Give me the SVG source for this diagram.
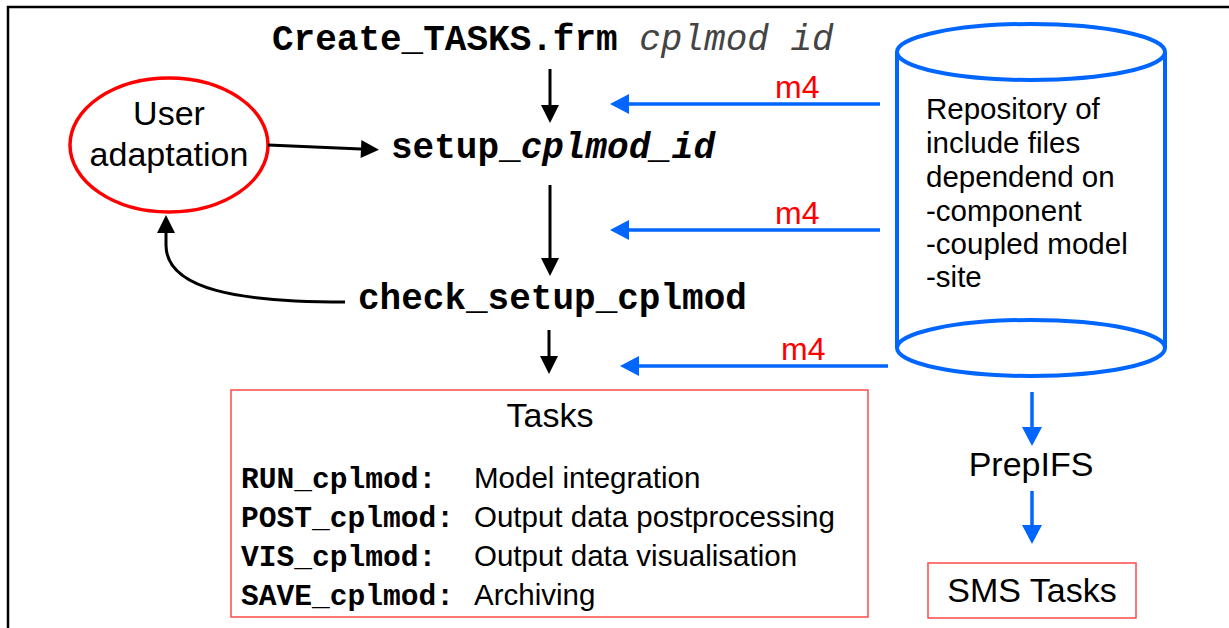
<svg xmlns="http://www.w3.org/2000/svg" width="1229" height="628" viewBox="0 0 1229 628">
<style>
.mono{font-family:"Liberation Mono","Courier New",monospace;font-weight:bold;fill:#000}
.sans{font-family:"Liberation Sans",Arial,sans-serif;fill:#000}
.blk{stroke:#000;stroke-width:3;fill:none}
.blu{stroke:#0066ff;stroke-width:3.5;fill:none}
.m4{font-family:"Liberation Sans",Arial,sans-serif;font-size:32px;fill:#ff0000}
</style>
<defs>
<marker id="hb" markerUnits="userSpaceOnUse" markerWidth="18" markerHeight="18" refX="0" refY="9" orient="auto" overflow="visible">
<path d="M0,0 L18,9 L0,18 z" fill="#000"/>
</marker>
<marker id="hu" markerUnits="userSpaceOnUse" markerWidth="19" markerHeight="20" refX="0" refY="10" orient="auto" overflow="visible">
<path d="M0,0 L19,10 L0,20 z" fill="#0066ff"/>
</marker>
</defs>
<rect x="0" y="0" width="1229" height="628" fill="#fff"/>
<rect x="8" y="7" width="1240" height="640" fill="none" stroke="#000" stroke-width="2.5"/>

<g id="create">
<text x="272" y="50" class="mono" font-size="36">Create_TASKS.frm<tspan font-weight="normal" font-style="italic" fill="#444"> cplmod id</tspan></text>
</g>
<g id="user">
<ellipse cx="169" cy="145" rx="99" ry="67" fill="none" stroke="#ff0000" stroke-width="3.5"/>
<text x="169" y="125" class="sans" font-size="34" text-anchor="middle">User</text>
<text x="169" y="166" class="sans" font-size="34" text-anchor="middle">adaptation</text>
</g>
<g id="setup">
<text x="391" y="158" class="mono" font-size="36">setup_<tspan font-style="italic">cplmod_id</tspan></text>
</g>
<g id="check">
<text x="358" y="309" class="mono" font-size="36">check_setup_cplmod</text>
</g>
<g id="repository">
<path d="M897,52 L897,348 M1165,52 L1165,348" stroke="#0066ff" stroke-width="4" fill="none"/>
<ellipse cx="1031" cy="52" rx="134" ry="28" fill="none" stroke="#0066ff" stroke-width="4"/>
<ellipse cx="1031" cy="348" rx="134" ry="28" fill="none" stroke="#0066ff" stroke-width="4"/>
<g class="sans" font-size="29.5">
<text x="926" y="119">Repository of</text>
<text x="926" y="153">include files</text>
<text x="926" y="187">dependend on</text>
<text x="926" y="221">-component</text>
<text x="926" y="254">-coupled model</text>
<text x="926" y="287">-site</text>
</g>
</g>
<g id="tasks">
<rect x="231" y="390" width="637" height="227" fill="none" stroke="#ff4a4a" stroke-width="1.5"/>
<text x="550" y="427" class="sans" font-size="34" text-anchor="middle">Tasks</text>
<g class="mono" font-size="29.6">
<text x="241" y="488">RUN_cplmod:</text>
<text x="241" y="527">POST_cplmod:</text>
<text x="241" y="566">VIS_cplmod:</text>
<text x="241" y="605">SAVE_cplmod:</text>
</g>
<g class="sans" font-size="29.5">
<text x="474" y="488">Model integration</text>
<text x="474" y="527">Output data postprocessing</text>
<text x="474" y="566">Output data visualisation</text>
<text x="474" y="605">Archiving</text>
</g>
</g>
<g id="prepifs">
<text x="1031" y="476" class="sans" font-size="34" text-anchor="middle">PrepIFS</text>
</g>
<g id="sms">
<rect x="928" y="563" width="208" height="55" fill="none" stroke="#ff4a4a" stroke-width="1.5"/>
<text x="1032" y="602" class="sans" font-size="34" text-anchor="middle">SMS Tasks</text>
</g>

<g id="connectors">
<path class="blk" d="M550,69 L550,105" marker-end="url(#hb)"/>
<path class="blk" d="M550,185 L550,258" marker-end="url(#hb)"/>
<path class="blk" d="M549,330 L549,356" marker-end="url(#hb)"/>
<path class="blk" d="M268,145 L361,149" marker-end="url(#hb)"/>
<path class="blk" d="M345,302 C240,302 166,290 166,245 L166,233" marker-end="url(#hb)"/>
<path class="blu" d="M880,104 L629,104" marker-end="url(#hu)"/>
<path class="blu" d="M880,230 L629,230" marker-end="url(#hu)"/>
<path class="blu" d="M888,366 L639,366" marker-end="url(#hu)"/>
<path class="blu" d="M1032,392 L1032,427" marker-end="url(#hu)"/>
<path class="blu" d="M1032,491 L1032,525" marker-end="url(#hu)"/>
<text x="775" y="98" class="m4">m4</text>
<text x="775" y="224" class="m4">m4</text>
<text x="781" y="360" class="m4">m4</text>
</g>
</svg>
